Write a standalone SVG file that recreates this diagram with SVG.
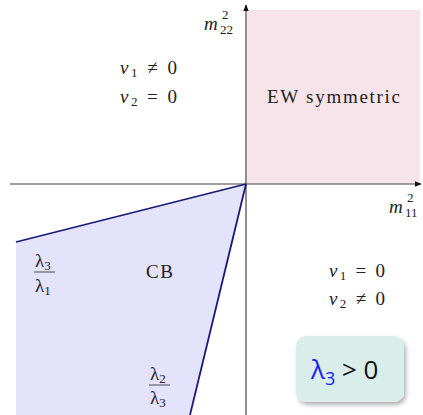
<svg xmlns="http://www.w3.org/2000/svg" width="423" height="415" viewBox="0 0 423 415">
<defs>
<style>
.t{font-family:"Liberation Serif",serif;font-size:19px;fill:#222}
.i{font-style:italic}
.s{font-size:13px}
.ax{stroke:#444;stroke-width:1.2;fill:none}
.bd{stroke:#1a1a7a;stroke-width:1.8;fill:none}
</style>
<marker id="ar" viewBox="0 0 10 10" refX="9" refY="5" markerWidth="7" markerHeight="7" orient="auto" markerUnits="userSpaceOnUse"><path d="M0,1 L10,5 L0,9 Z" fill="#111"/></marker>
<filter id="sh" x="-20%" y="-20%" width="140%" height="140%"><feDropShadow dx="2" dy="3" stdDeviation="2" flood-color="#000" flood-opacity="0.3"/></filter>
</defs>
<g id="regions">
<rect id="ew" x="247" y="10" width="173" height="174" fill="#f7e4ea"/>
<polygon id="cb" points="246,184 16,242 16,415 190,415" fill="#e3e3fb"/>
</g>
<g id="connectors">
<line class="ax" x1="10" y1="184" x2="421" y2="184" marker-end="url(#ar)"/>
<line class="ax" x1="246" y1="415" x2="246" y2="5" marker-end="url(#ar)"/>
<line class="bd" x1="246" y1="184" x2="16" y2="242"/>
<line class="bd" x1="246" y1="184" x2="190" y2="415"/>
</g>
<g id="labels">
<text class="t i" x="204" y="30">m</text><text class="t s" x="222" y="19">2</text><text class="t s" x="220" y="34">22</text>
<text class="t i" x="389" y="213">m</text><text class="t s" x="407" y="202">2</text><text class="t s" x="405" y="217">11</text>
<text class="t" x="120" y="74" textLength="57"><tspan class="i">v</tspan><tspan class="s" dy="3">1</tspan><tspan dy="-3"> ≠ 0</tspan></text>
<text class="t" x="120" y="103" textLength="57"><tspan class="i">v</tspan><tspan class="s" dy="3">2</tspan><tspan dy="-3"> = 0</tspan></text>
<text class="t" x="267" y="103" textLength="133">EW symmetric</text>
<text class="t" x="329" y="277" textLength="56"><tspan class="i">v</tspan><tspan class="s" dy="3">1</tspan><tspan dy="-3"> = 0</tspan></text>
<text class="t" x="329" y="305" textLength="56"><tspan class="i">v</tspan><tspan class="s" dy="3">2</tspan><tspan dy="-3"> ≠ 0</tspan></text>
<text class="t" x="146" y="278" textLength="27">CB</text>
<text class="t" x="35" y="267">λ<tspan class="s" dy="3">3</tspan></text>
<line x1="34" y1="272" x2="55" y2="272" stroke="#222" stroke-width="0.8"/>
<text class="t" x="35" y="292">λ<tspan class="s" dy="3">1</tspan></text>
<text class="t" x="150" y="380">λ<tspan class="s" dy="3">2</tspan></text>
<line x1="149" y1="385" x2="170" y2="385" stroke="#222" stroke-width="0.8"/>
<text class="t" x="150" y="404">λ<tspan class="s" dy="3">3</tspan></text>
</g>
<g id="box">
<rect x="296" y="336" width="108" height="66" rx="10" fill="#d9eeeb" filter="url(#sh)"/>
<text x="311" y="379" font-family="'Open Sans','DejaVu Sans',sans-serif" font-size="26"><tspan fill="#1a1aff">λ</tspan><tspan fill="#1a1aff" font-size="18" dy="6">3</tspan><tspan fill="#111" dy="-6"> &gt; 0</tspan></text>
</g>
</svg>
